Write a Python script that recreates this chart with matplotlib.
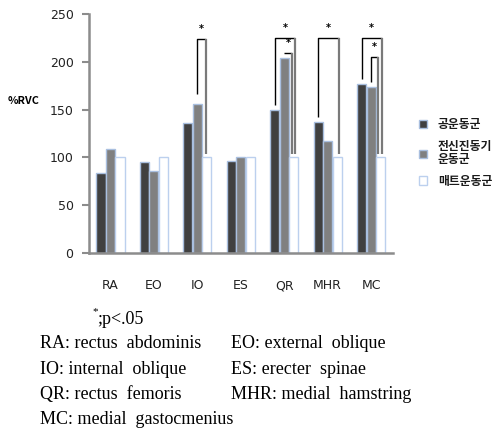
import matplotlib.pyplot as plt
from matplotlib.patches import Patch

# 근육별 %RVC
categories = ["RA", "EO", "IO", "ES", "QR", "MHR", "MC"]
series_names = ["공운동군", "전신진동기\n운동군", "매트운동군"]
ball = [84, 95, 136, 96, 150, 137, 177]
vibration = [109, 86, 156, 100, 204, 117, 174]
mat = [100, 100, 100, 100, 100, 100, 100]

# 유의성 표시: (근육 index, 왼쪽 그룹 index, 괄호 높이)
bracket_cat = [2, 4, 4, 5, 6, 6]
bracket_left = [1, 0, 1, 0, 0, 1]
bracket_top = [224, 225, 209, 225, 225, 205]

caption_rows = [
    ("RA: rectus  abdominis", "EO: external  oblique"),
    ("IO: internal  oblique", "ES: erecter  spinae"),
    ("QR: rectus  femoris", "MHR: medial  hamstring"),
    ("MC: medial  gastocmenius", ""),
]

plt.rcParams['font.family'] = ['DejaVu Sans', 'Noto Sans CJK KR']

fig = plt.figure(figsize=(4.96, 4.34), dpi=100)
ax = fig.add_axes([0.179, 0.417, 0.613, 0.551])

values = [ball, vibration, mat]
faces = ["#404040", "#808080", "#ffffff"]
edges = ["#a9bfdf", "#a9bfdf", "#bcd0ee"]
width = 0.21
step = 0.22

def bar_x(i, k):
    return i + 0.5 + (k - 1) * step

for k in range(3):
    xs = [bar_x(i, k) for i in range(len(categories))]
    ax.bar(xs, values[k], width=width, color=faces[k], edgecolor=edges[k],
           linewidth=1.0, zorder=2)

# 괄호
for c, left, top in zip(bracket_cat, bracket_left, bracket_top):
    inner = top < 215
    xl = bar_x(c, left)
    xr = bar_x(c, 2) + (-0.05 if inner else 0.03)
    if c == 2:
        xr = bar_x(c, 2) - 0.02
    yl = values[left][c] + (10 if c == 2 else 5)
    yr = mat[c] + 4
    ax.plot([xl, xl, xr], [yl, top, top], color="black", lw=1.0, zorder=3,
            solid_capstyle="butt")
    ax.plot([xr, xr], [top, yr], color="#7a7a7a", lw=1.6, zorder=3,
            solid_capstyle="butt")
    ax.text((xl + xr) / 2, top + 5, "*", ha="center", va="bottom",
            fontsize=7, fontweight="bold", color="black")

ax.set_xlim(0, len(categories))
ax.set_ylim(0, 250)
ax.set_yticks([0, 50, 100, 150, 200, 250])
ax.set_xticks([i + 0.5 for i in range(len(categories))])
ax.set_xticklabels(categories)
ax.tick_params(axis="x", length=0, pad=19, labelsize=9, labelcolor="#222222")
ax.tick_params(axis="y", length=5, width=1.5, color="#8c8c8c", pad=6,
               labelsize=9, labelcolor="#222222")
for s in ["top", "right"]:
    ax.spines[s].set_visible(False)
for s in ["left", "bottom"]:
    ax.spines[s].set_color("#8c8c8c")
    ax.spines[s].set_linewidth(1.8)

fig.text(0.016, 0.768, "%RVC", fontsize=7.8, fontweight="bold",
         ha="left", va="center", family=['Noto Sans CJK KR', 'DejaVu Sans'])

handles = [Patch(facecolor=faces[k], edgecolor=edges[k], linewidth=1.0)
           for k in range(3)]
leg = fig.legend(handles, series_names, loc="upper left",
                 bbox_to_anchor=(0.835, 0.738), frameon=False,
                 handlelength=0.7, handleheight=0.7, handletextpad=0.9,
                 labelspacing=0.75, borderaxespad=0,
                 prop={"family": ['Noto Sans CJK KR', 'DejaVu Sans'],
                       "weight": "bold", "size": 8.5})
for t in leg.get_texts():
    t.set_linespacing(0.95)
    t.set_color("#1a1a1a")

# 캡션
serif = ['Liberation Serif', 'DejaVu Serif']
fig.text(0.196, 0.264, ";p<.05", fontsize=13, family=serif, va="center")
fig.text(0.186, 0.281, "*", fontsize=8, family=serif, va="center")
y0 = 0.208
for r, (a, b) in enumerate(caption_rows):
    y = y0 - r * 0.0583
    fig.text(0.081, y, a, fontsize=13, family=serif, va="center")
    if b:
        fig.text(0.466, y, b, fontsize=13, family=serif, va="center")

fig.savefig("out.png", dpi=100)
